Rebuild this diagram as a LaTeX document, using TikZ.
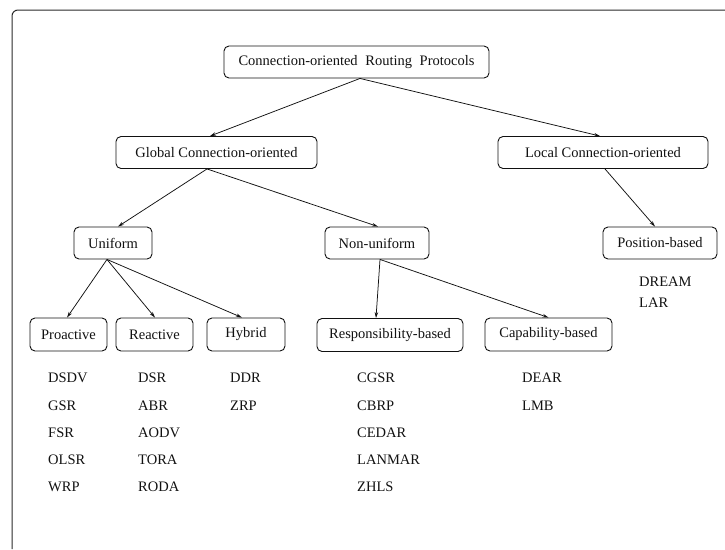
\documentclass[tikz,border=0pt]{standalone}
\usepackage{fontspec}
\setmainfont{Liberation Serif}
\usepackage{xcolor}
\definecolor{scanInk}{HTML}{111111}
\definecolor{scanFrame}{HTML}{2A2A2A}
\usepackage{tikz}
\usetikzlibrary{arrows.meta,positioning}
\tikzset{
    category/.style={
        draw=scanInk,
        fill=white,
        rectangle,
        rounded corners=5pt,
        align=center,
        minimum height=32pt,
        inner xsep=0pt,
        line width=0.9pt,
        text=scanInk,
        font=\fontsize{14.5}{17}\selectfont
    },
    proto/.style={
        anchor=west,
        inner sep=0pt,
        text=scanInk,
        font=\fontsize{14.5}{17}\selectfont
    },
    arrow/.style={
        ->,
        >={Stealth[length=6pt,width=3.5pt]},
        line width=0.75pt,
        color=scanInk
    },
    frame/.style={
        line width=1pt,
        color=scanFrame,
        rounded corners=6pt
    }
}

\begin{document}
\begin{tikzpicture}[x=1pt,y=-1pt]
    \useasboundingbox (0,0) rectangle (725,549);
    % Open frame round the figure
    \draw[frame] (12,549) -- (12,10) -- (725,10);

    % Root
    \node[category, minimum width=265pt] (root) at (356.5,62)
        {Connection-oriented\hspace{4pt} Routing\hspace{4pt} Protocols};

    % Second level
    \node[category, minimum width=201pt] (global) at (216.5,152.5) {Global Connection-oriented};
    \node[category, minimum width=210pt] (local) at (603,152.5) {Local Connection-oriented};

    % Third level
    \node[category, minimum width=78pt] (uniform) at (113,243) {Uniform};
    \node[category, minimum width=104pt] (nonuni) at (377,243) {Non-uniform};
    \node[category, minimum width=114pt] (position) at (660,243) {Position-based};

    % Fourth level
    \node[category, minimum width=77pt, minimum height=33pt] (proactive) at (68.5,334.5) {Proactive};
    \node[category, minimum width=77pt, minimum height=33pt] (reactive) at (154.5,334.5) {Reactive};
    \node[category, minimum width=78pt, minimum height=33pt] (hybrid) at (246,334.5) {Hybrid};
    \node[category, minimum width=146pt, minimum height=33pt] (resp) at (390,335) {Responsibility-based};
    \node[category, minimum width=127pt, minimum height=33pt] (capab) at (548.5,334.5) {Capability-based};

    % Protocol lists
    \foreach \name [count=\i] in {DSDV,GSR,FSR,OLSR,WRP}
        \node[proto] (proactive-\i) at (48,{350.7+27.3*\i}) {\name};
    \foreach \name [count=\i] in {DSR,ABR,AODV,TORA,RODA}
        \node[proto] (reactive-\i) at (138,{350.7+27.3*\i}) {\name};
    \foreach \name [count=\i] in {DDR,ZRP}
        \node[proto] (hybrid-\i) at (230,{350.7+27.3*\i}) {\name};
    \foreach \name [count=\i] in {CGSR,CBRP,CEDAR,LANMAR,ZHLS}
        \node[proto] (resp-\i) at (357,{350.7+27.3*\i}) {\name};
    \foreach \name [count=\i] in {DEAR,LMB}
        \node[proto] (capab-\i) at (522,{350.7+27.3*\i}) {\name};
    \foreach \name [count=\i] in {DREAM,LAR}
        \node[proto] (position-\i) at (639,{261+21*\i}) {\name};

    % Connectors
    \draw[arrow] ([xshift=3.5pt]root.south) -- ([xshift=-6.5pt]global.north);
    \draw[arrow] ([xshift=3.5pt]root.south) -- ([xshift=-3pt]local.north);
    \draw[arrow] ([xshift=-9.5pt]global.south) -- ([xshift=5pt]uniform.north);
    \draw[arrow] ([xshift=-9.5pt]global.south) -- ([xshift=1pt]nonuni.north);
    \draw[arrow] ([xshift=2pt]local.south) -- ([xshift=-5pt]position.north);
    \draw[arrow] ([xshift=-6pt]uniform.south) -- ([xshift=-1.5pt]proactive.north);
    \draw[arrow] ([xshift=-6pt]uniform.south) -- ([xshift=0.5pt]reactive.north);
    \draw[arrow] ([xshift=-6pt]uniform.south) -- ([xshift=-4pt]hybrid.north);
    \draw[arrow] ([xshift=3pt]nonuni.south) -- ([xshift=-14pt]resp.north);
    \draw[arrow] ([xshift=3pt]nonuni.south) -- (capab.north);
\end{tikzpicture}
\end{document}
